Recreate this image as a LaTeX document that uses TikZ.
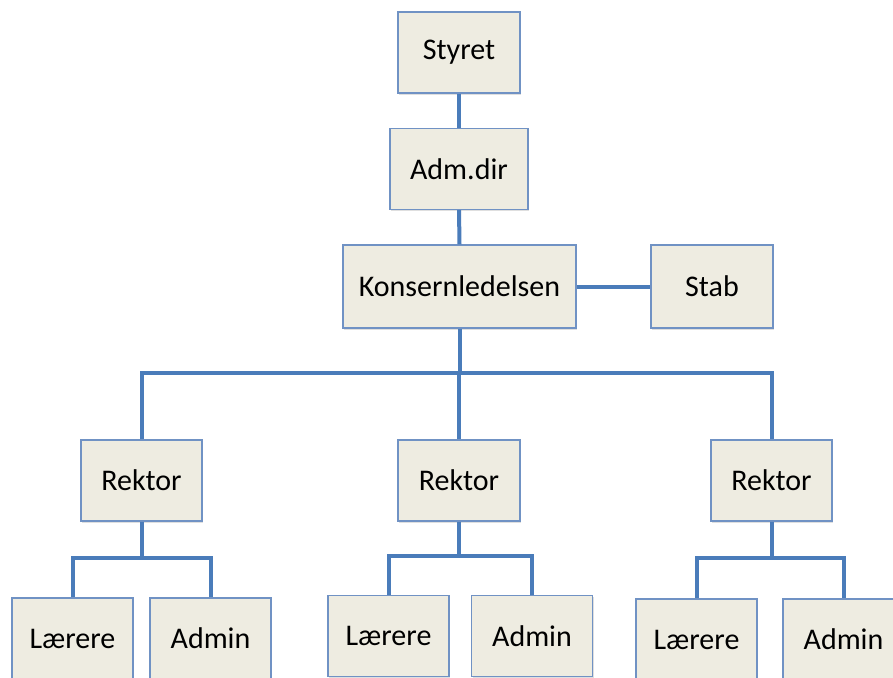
\documentclass[tikz,border=0pt]{standalone}
\usepackage{fontspec}
\setmainfont{Carlito}
\usetikzlibrary{shadows}
\definecolor{boxfill}{RGB}{238,236,225}
\definecolor{boxline}{RGB}{112,146,196}
\definecolor{conline}{RGB}{74,124,186}
\tikzset{
  orgbox/.style={draw=boxline, line width=1.3pt, fill=boxfill, minimum height=81pt,
    inner sep=0pt, font=\fontsize{30}{34}\selectfont,
    drop shadow={opacity=0.25, shadow xshift=1.2pt, shadow yshift=-1.5pt}},
  conn/.style={draw=conline, line width=4pt}
}
\begin{document}
\begin{tikzpicture}[x=1pt,y=-1pt]
\useasboundingbox (0,0) rectangle (893,677);
\clip (0,0) rectangle (893,677);
\fill[white] (0,0) rectangle (893,677);
\coordinate (bus) at (0,373);
\coordinate (sbl) at (0,558);
\coordinate (sbm) at (0,556);
\coordinate (sbr) at (0,558);
\node[orgbox, minimum width=122pt] (sty) at (459,52.5) {Styret};
\node[orgbox, minimum width=138pt] (adm) at (459,169) {Adm.dir};
\node[orgbox, minimum width=233pt, minimum height=83pt] (kon) at (459.5,286.5) {Konsernledelsen};
\node[orgbox, minimum width=122pt, minimum height=83pt] (stab) at (712,286.5) {Stab};
\node[orgbox, minimum width=121pt] (rl) at (141.5,480.5) {Rektor};
\node[orgbox, minimum width=122pt] (rm) at (459,480.5) {Rektor};
\node[orgbox, minimum width=121pt] (rr) at (771.5,480.5) {Rektor};
\node[orgbox, minimum width=121pt] (ll) at (72.5,638.5) {Lærere};
\node[orgbox, minimum width=121pt] (al) at (210.5,638.5) {Admin};
\node[orgbox, minimum width=121pt] (lm) at (388.5,636) {Lærere};
\node[orgbox, minimum width=121pt] (am) at (532,636) {Admin};
\node[orgbox, minimum width=121pt] (lr) at (696.5,639.5) {Lærere};
\node[orgbox, minimum width=121pt] (ar) at (843.5,639.5) {Admin};
\draw[conn] (sty.south) -- (adm.north);
\draw[conn] (adm.south) -- (kon.north);
\draw[conn] (kon.east) -- (stab.west);
\draw[conn] (kon.south) -- (kon.south |- bus);
\draw[conn] (rl.north) -- (rl.north |- bus) -- (rr.north |- bus) -- (rr.north);
\draw[conn] (rm.north |- bus) -- (rm.north);
\draw[conn] (rl.south) -- (rl.south |- sbl);
\draw[conn] (ll.north) -- (ll.north |- sbl) -- (al.north |- sbl) -- (al.north);
\draw[conn] (rm.south) -- (rm.south |- sbm);
\draw[conn] (lm.north) -- (lm.north |- sbm) -- (am.north |- sbm) -- (am.north);
\draw[conn] (rr.south) -- (rr.south |- sbr);
\draw[conn] (lr.north) -- (lr.north |- sbr) -- (ar.north |- sbr) -- (ar.north);
\end{tikzpicture}
\end{document}
